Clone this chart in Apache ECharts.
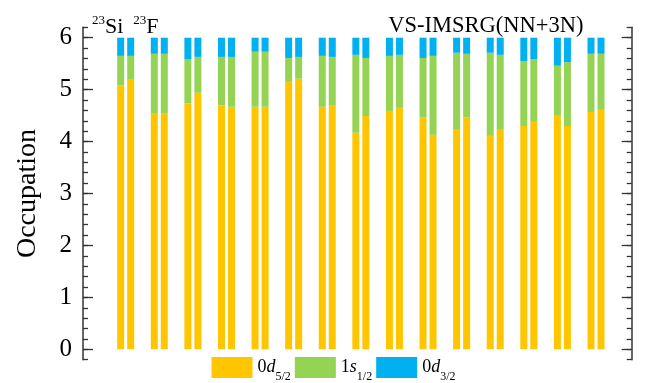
<!DOCTYPE html>
<html>
<head>
<meta charset="utf-8">
<script src="https://cdn.jsdelivr.net/npm/echarts@6/dist/echarts.min.js"></script>
<style>
html,body{margin:0;padding:0;background:#fff;}
#c{width:648px;height:383px;}
</style>
</head>
<body>
<div id="c"></div>
<script>
// categories (15 calculation pairs; left bar = 23Si, right bar = 23F)
var categories = ['1','2','3','4','5','6','7','8','9','10','11','12','13','14','15'];
var legendNames = ['0d5/2', '1s1/2', '0d3/2'];
var yTicks = [0, 1, 2, 3, 4, 5, 6];

// 23Si occupations
var siD52 = [5.08, 4.55, 4.74, 4.70, 4.67, 5.15, 4.67, 4.17, 4.59, 4.46, 4.24, 4.11, 4.30, 4.51, 4.57];
var siS12 = [0.57, 1.14, 0.85, 0.93, 1.06, 0.46, 0.98, 1.50, 1.06, 1.15, 1.47, 1.60, 1.25, 0.95, 1.12];
var siD32 = [0.35, 0.31, 0.41, 0.37, 0.27, 0.39, 0.35, 0.33, 0.35, 0.39, 0.29, 0.29, 0.45, 0.54, 0.31];
// 23F occupations
var fD52 = [5.19, 4.55, 4.94, 4.67, 4.67, 5.21, 4.69, 4.49, 4.65, 4.13, 4.46, 4.24, 4.38, 4.30, 4.61];
var fS12 = [0.46, 1.14, 0.69, 0.96, 1.06, 0.42, 0.94, 1.12, 1.02, 1.52, 1.23, 1.43, 1.21, 1.23, 1.08];
var fD32 = [0.35, 0.31, 0.37, 0.37, 0.27, 0.37, 0.37, 0.39, 0.33, 0.35, 0.31, 0.33, 0.41, 0.47, 0.31];

var colors = {'0d5/2': '#FFC600', '1s1/2': '#95D355', '0d3/2': '#00B0F0'};
var serif = 'Liberation Serif';
var axisColor = '#333';

var chart = echarts.init(document.getElementById('c'), null, {renderer: 'canvas'});

function bar(name, stack, data) {
  return {
    type: 'bar', name: name, stack: stack, data: data,
    xAxisIndex: 1, yAxisIndex: 2,
    barWidth: 7, barGap: '43%',
    itemStyle: {color: colors[name]},
    emphasis: {disabled: true},
    animation: false
  };
}

var fineAxis = function (pos, offset) {
  return {
    type: 'value', gridIndex: 0, position: pos, offset: offset,
    min: -0.2, max: 6.2, interval: 0.2,
    axisLine: {show: true, lineStyle: {color: axisColor, width: 1.5}},
    axisTick: {show: true, inside: true, length: 5, lineStyle: {color: axisColor, width: 1.3}},
    axisLabel: {show: false},
    splitLine: {show: false}
  };
};
var majorAxis = function (pos, offset, labels) {
  return {
    type: 'value', gridIndex: 1, position: pos, offset: offset,
    min: yTicks[0], max: yTicks[yTicks.length - 1], interval: 1,
    axisLine: {show: false},
    axisTick: {show: true, inside: true, length: 10, lineStyle: {color: axisColor, width: 1.3}},
    axisLabel: {
      show: labels, margin: 11,
      formatter: function (v) { return '{t|' + v + '}'; },
      rich: {t: {fontFamily: serif, fontSize: 25, color: '#000'}},
      color: '#000', fontFamily: serif, fontSize: 25
    },
    splitLine: {show: false}
  };
};

var option = {
  backgroundColor: '#fff',
  animation: false,
  textStyle: {fontFamily: serif},
  grid: [
    {left: 108.9, right: 35.2, top: 27.3, bottom: 23.3},
    {left: 108.9, right: 35.2, top: 37.7, bottom: 33.7}
  ],
  xAxis: [
    {type: 'category', gridIndex: 0, data: categories, show: false},
    {type: 'category', gridIndex: 1, data: categories, show: false}
  ],
  yAxis: [
    fineAxis('left', 25.9),
    fineAxis('right', 18.9),
    majorAxis('left', 25.9, true),
    majorAxis('right', 18.9, false)
  ],
  legend: {
    data: legendNames,
    left: 211.5, top: 357,
    itemWidth: 41, itemHeight: 21, itemGap: 4,
    icon: 'rect',
    padding: 0,
    selectedMode: false,
    formatter: function (n) {
      var lead = n.charAt(0), letter = n.charAt(1), sub = n.slice(2);
      return '{a|' + lead + '}{b|' + letter + '}{c|' + sub + '}';
    },
    textStyle: {
      color: '#000', fontFamily: serif, fontSize: 18,
      rich: {
        a: {fontFamily: serif, fontSize: 18, color: '#000', lineHeight: 22, verticalAlign: 'middle'},
        b: {fontFamily: serif, fontSize: 18, fontStyle: 'italic', color: '#000', lineHeight: 22, verticalAlign: 'middle'},
        c: {fontFamily: serif, fontSize: 12, color: '#000', lineHeight: 22, verticalAlign: 'bottom', padding: [0, 0, -4, 0]}
      }
    }
  },
  graphic: [
    {
      type: 'text', x: 27.5, y: 193.5, rotation: Math.PI / 2,
      style: {text: 'Occupation', font: '28px "Liberation Serif"', fill: '#000', align: 'center', verticalAlign: 'middle'}
    },
    {
      type: 'text', x: 92, y: 14,
      style: {
        text: '{s|23}{m|Si}   {s|23}{m|F}',
        fill: '#000',
        rich: {
          s: {fontFamily: serif, fontSize: 13, fill: '#000', verticalAlign: 'top', lineHeight: 24},
          m: {fontFamily: serif, fontSize: 22, fill: '#000', verticalAlign: 'bottom', lineHeight: 24}
        }
      }
    },
    {
      type: 'text', x: 388.3, y: 15,
      style: {text: 'VS-IMSRG(NN+3N)', font: '22.5px "Liberation Serif"', fill: '#000', align: 'left', verticalAlign: 'top'}
    }
  ],
  series: [
    bar('0d5/2', 'Si', siD52),
    bar('1s1/2', 'Si', siS12),
    bar('0d3/2', 'Si', siD32),
    bar('0d5/2', 'F', fD52),
    bar('1s1/2', 'F', fS12),
    bar('0d3/2', 'F', fD32)
  ]
};
chart.setOption(option);
</script>
</body>
</html>
